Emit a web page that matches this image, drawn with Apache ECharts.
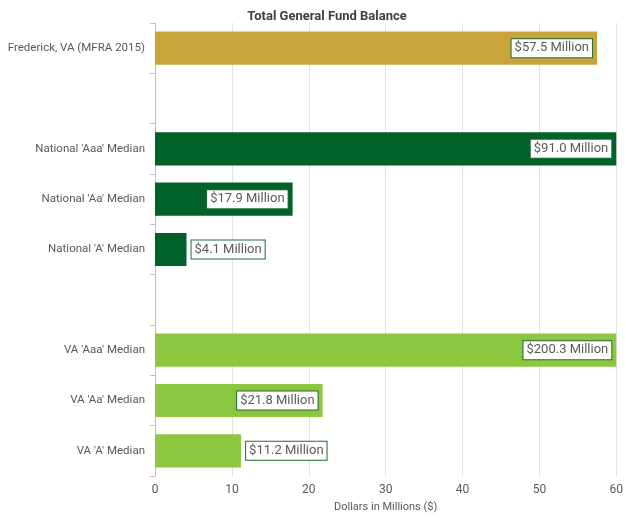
<!DOCTYPE html>
<html>
<head>
<meta charset="utf-8">
<script src="https://cdn.jsdelivr.net/npm/echarts@6/dist/echarts.min.js"></script>
<style>
  html, body { margin: 0; padding: 0; background: #ffffff; overflow: hidden; }
  #chart { width: 626px; height: 518px; }
</style>
</head>
<body>
<div id="chart"></div>
<script>
// Rows from top to bottom; blank rows separate the three groups
const categories = [
  'Frederick, VA (MFRA 2015)',
  ' ',
  "National 'Aaa' Median",
  "National 'Aa' Median",
  "National 'A' Median",
  '  ',
  "VA 'Aaa' Median",
  "VA 'Aa' Median",
  "VA 'A' Median"
];
const groups = ['Frederick', null, 'National', 'National', 'National', null, 'VA', 'VA', 'VA'];
// Total general fund balance, millions of dollars
const values = [57.5, null, 91.0, 17.9, 4.1, null, 200.3, 21.8, 11.2];
const xTicks = [0, 10, 20, 30, 40, 50, 60];

const groupColors = { Frederick: '#C8A43A', National: '#006129', VA: '#8DC63F' };
const FONT = 'Roboto';

const seriesData = values.map((v, i) => {
  if (v === null) return '-';
  return {
    value: v,
    itemStyle: { color: groupColors[groups[i]] },
    label: { position: v < 15 ? 'right' : 'insideRight' }
  };
});

const chart = echarts.init(document.getElementById('chart'), null, { renderer: 'canvas' });
chart.setOption({
  animation: false,
  backgroundColor: '#ffffff',
  title: {
    text: 'Total General Fund Balance',
    left: 322,
    textAlign: 'center',
    top: 5,
    textStyle: { fontFamily: FONT, fontSize: 13, fontWeight: 'bold', color: '#404040' }
  },
  grid: { left: 155, right: 6, top: 23, bottom: 40, containLabel: false },
  xAxis: {
    type: 'value',
    min: xTicks[0],
    max: xTicks[xTicks.length - 1],
    interval: 10,
    name: 'Dollars in Millions ($)',
    nameLocation: 'middle',
    nameGap: 26,
    nameTextStyle: { fontFamily: FONT, fontSize: 11, color: '#595959' },
    axisLine: { show: false },
    axisTick: { show: false },
    axisLabel: { fontFamily: FONT, fontSize: 12, color: '#595959', margin: 8 },
    splitLine: { show: true, lineStyle: { color: '#e4e4e4', width: 1 } }
  },
  yAxis: {
    type: 'category',
    inverse: true,
    data: categories,
    axisLine: { show: true, lineStyle: { color: '#bfbfbf', width: 1 } },
    axisTick: { show: true, length: 5, inside: false, lineStyle: { color: '#bfbfbf' } },
    axisLabel: { fontFamily: FONT, fontSize: 11.5, color: '#595959', margin: 10 },
    splitLine: { show: false }
  },
  series: [{
    type: 'bar',
    data: seriesData,
    barCategoryGap: '34%',
    clip: true,
    label: {
      show: true,
      distance: 5,
      formatter: p => '$' + p.value.toFixed(1) + ' Million',
      fontFamily: FONT,
      fontSize: 13,
      color: '#595959',
      backgroundColor: '#ffffff',
      borderColor: '#1e6b35',
      borderWidth: 1,
      padding: [3, 3, 2, 3]
    }
  }]
});
</script>
</body>
</html>
